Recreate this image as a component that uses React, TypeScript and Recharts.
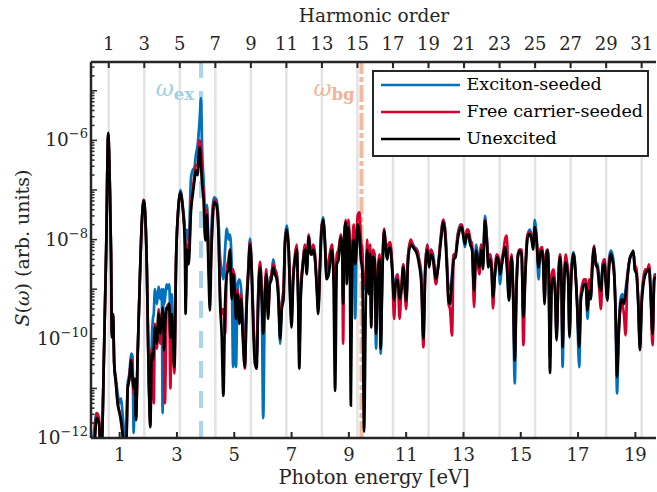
import { LineChart, Line, XAxis, YAxis, ReferenceLine } from 'recharts';

const FONT = 'DejaVu Serif';
const INK = '#262626';

const BLUE = '#0072bd';
const RED = '#d7002c';
const BLACK = '#000000';

// photon energy grid (eV)
const energy = [
  0, 0.1, 0.2, 0.28, 0.35, 0.46, 0.53, 0.6, 0.66, 0.7,
  0.73, 0.77, 0.81, 0.87, 0.93, 1.0, 1.05, 1.1, 1.16, 1.22,
  1.28, 1.34, 1.4, 1.45, 1.49, 1.53, 1.57, 1.63, 1.7, 1.77,
  1.84, 1.9, 1.95, 2.0, 2.07, 2.12, 2.16, 2.19, 2.23, 2.3,
  2.36, 2.42, 2.47, 2.5, 2.53, 2.55, 2.58, 2.64, 2.7, 2.73,
  2.77, 2.82, 2.86, 2.91, 2.97, 3.05, 3.12, 3.2, 3.28, 3.3,
  3.35, 3.41, 3.49, 3.55, 3.61, 3.66, 3.72, 3.79, 3.84, 3.88,
  3.93, 3.99, 4.05, 4.1, 4.15, 4.2, 4.3, 4.38, 4.45, 4.5,
  4.56, 4.62, 4.68, 4.74, 4.8, 4.85, 4.91, 4.96, 5.02, 5.06,
  5.12, 5.18, 5.24, 5.3, 5.37, 5.43, 5.49, 5.55, 5.61, 5.66,
  5.72, 5.78, 5.84, 5.9, 5.96, 6.01, 6.07, 6.12, 6.18, 6.24,
  6.3, 6.36, 6.42, 6.48, 6.54, 6.6, 6.66, 6.72, 6.77, 6.83,
  6.9, 6.95, 7.0, 7.06, 7.12, 7.18, 7.23, 7.27, 7.32, 7.39,
  7.47, 7.53, 7.6, 7.66, 7.71, 7.76, 7.82, 7.88, 7.93, 7.99,
  8.04, 8.1, 8.16, 8.22, 8.3, 8.36, 8.41, 8.46, 8.52, 8.58,
  8.64, 8.72, 8.77, 8.8, 8.84, 8.89, 8.93, 8.98, 9.03, 9.07,
  9.12, 9.17, 9.22, 9.27, 9.31, 9.37, 9.42, 9.47, 9.53, 9.6,
  9.64, 9.69, 9.74, 9.78, 9.84, 9.9, 9.95, 10.01, 10.07, 10.11,
  10.17, 10.23, 10.29, 10.34, 10.38, 10.44, 10.51, 10.58, 10.63, 10.7,
  10.77, 10.84, 10.9, 11.0, 11.07, 11.16, 11.23, 11.3, 11.38, 11.45,
  11.53, 11.6, 11.67, 11.74, 11.8, 11.87, 11.94, 12.04, 12.12, 12.2,
  12.3, 12.36, 12.42, 12.48, 12.53, 12.6, 12.66, 12.72, 12.8, 12.88,
  12.94, 13.0, 13.05, 13.12, 13.17, 13.24, 13.3, 13.37, 13.44, 13.5,
  13.56, 13.62, 13.68, 13.75, 13.82, 13.87, 13.93, 13.98, 14.03, 14.1,
  14.16, 14.22, 14.28, 14.34, 14.4, 14.45, 14.51, 14.59, 14.64, 14.68,
  14.73, 14.79, 14.85, 14.9, 14.96, 15.03, 15.09, 15.16, 15.24, 15.32,
  15.38, 15.43, 15.49, 15.55, 15.62, 15.68, 15.74, 15.79, 15.83, 15.88,
  15.93, 15.97, 16.02, 16.08, 16.14, 16.2, 16.25, 16.31, 16.37, 16.42,
  16.46, 16.52, 16.57, 16.62, 16.66, 16.7, 16.76, 16.84, 16.9, 16.96,
  17.04, 17.1, 17.15, 17.21, 17.27, 17.33, 17.39, 17.44, 17.5, 17.56,
  17.62, 17.68, 17.74, 17.8, 17.86, 17.92, 17.97, 18.02, 18.08, 18.14,
  18.2, 18.26, 18.31, 18.36, 18.42, 18.48, 18.54, 18.6, 18.66, 18.72,
  18.8, 18.86, 18.93, 18.98, 19.04, 19.1, 19.16, 19.22, 19.28, 19.35,
  19.42, 19.48, 19.53, 19.6, 19.66, 19.72,
];

// log10 S(w), exciton-seeded
const excitonSeeded = [
  -12.6, -11.9, -11.5, -11.7, -12.5, -10.1, -8.2, -5.9, -7.0, -8.3,
  -9.9, -9.5, -10.5, -10.8, -11.1, -11.3, -11.2, -11.5, -11.9, -12.3,
  -10.9, -10.7, -10.3, -10.35, -11.9, -10.9, -11.5, -10.3, -8.9, -7.7,
  -7.2, -7.6, -8.6, -10.3, -11.5, -10.1, -9.6, -9.5, -9.0, -9.3,
  -8.95, -9.2, -9.0, -11.5, -9.0, -9.3, -9.2, -8.9, -9.0, -8.9,
  -9.5, -9.1, -9.7, -10.3, -8.4, -7.35, -7.0, -7.3, -7.9, -8.6,
  -7.8, -8.0, -6.75, -6.6, -6.55, -6.3, -6.1, -5.6, -5.15, -6.2,
  -6.8, -7.6, -7.3, -8.2, -8.7, -7.8, -7.15, -7.2, -7.6, -8.3,
  -8.6, -8.8, -8.2, -7.78, -8.0, -7.9, -8.5, -10.57, -8.7, -10.57,
  -8.9, -8.8, -9.0, -9.7, -10.0, -9.2, -8.6, -7.98, -8.6, -9.5,
  -10.2, -10.3, -9.1, -8.5, -9.2, -11.6, -9.1, -8.7, -9.4, -8.8,
  -8.7, -8.4, -8.6, -8.7, -9.0, -10.1, -9.3, -9.0, -8.0, -7.72,
  -8.2, -9.1, -9.6, -8.7, -8.4, -8.2, -9.1, -10.3, -9.1, -8.5,
  -8.15, -8.6, -7.92, -8.2, -8.3, -8.2, -8.4, -8.9, -9.4, -8.6,
  -7.8, -7.55, -8.0, -8.7, -8.6, -8.3, -8.2, -8.6, -9.2, -8.4,
  -8.3, -7.9, -8.2, -9.3, -7.9, -7.65, -8.6, -7.7, -8.1, -8.6,
  -8.2, -7.9, -9.59, -8.1, -7.7, -8.0, -8.3, -8.5, -9.0, -8.8,
  -8.2, -9.0, -8.2, -9.6, -8.3, -8.35, -10.2, -8.7, -8.4, -10.3,
  -8.7, -7.8, -8.2, -8.4, -8.2, -8.1, -8.5, -9.1, -8.8, -8.7,
  -9.1, -8.9, -8.5, -9.3, -8.3, -8.05, -8.1, -8.15, -8.2, -8.4,
  -8.7, -9.8, -8.5, -8.1, -8.4, -8.2, -8.3, -8.7, -8.5, -8.0,
  -7.6, -7.8, -8.4, -9.0, -9.0, -8.7, -8.3, -8.3, -7.9, -7.7,
  -7.7, -7.95, -8.15, -7.9, -7.9, -8.1, -8.2, -9.0, -8.1, -8.3,
  -8.4, -8.1, -8.5, -7.52, -8.0, -8.4, -8.3, -8.5, -9.1, -8.7,
  -8.4, -8.45, -8.9, -8.5, -8.3, -8.15, -8.4, -9.2, -8.6, -8.35,
  -9.1, -10.9, -9.0, -8.3, -8.2, -8.3, -9.5, -8.6, -7.9, -7.8,
  -7.95, -8.1, -7.6, -7.9, -8.8, -8.3, -8.2, -8.5, -9.2, -8.3,
  -8.2, -8.5, -10.4, -8.8, -8.7, -9.0, -9.9, -8.8, -8.3, -8.8,
  -10.57, -8.7, -8.4, -8.5, -8.8, -9.8, -8.7, -8.25, -8.5, -9.2,
  -10.57, -9.1, -9.0, -8.8, -8.9, -9.6, -9.0, -9.2, -8.5, -8.2,
  -8.45, -8.5, -8.8, -8.9, -8.5, -8.4, -8.8, -9.1, -8.4, -8.22,
  -8.3, -8.6, -9.5, -11.1, -9.8, -9.2, -9.1, -9.2, -9.0, -8.7,
  -8.4, -8.3, -8.26, -8.6, -8.7, -9.3, -10.2, -9.2, -8.8, -8.6,
  -8.6, -8.55, -9.0, -9.9, -8.7, -8.7,
];

// log10 S(w), free carrier-seeded
const freeCarrierSeeded = [
  -12.6, -12.3, -11.5, -11.6, -12.5, -10.1, -8.2, -5.9, -7.0, -8.3,
  -9.9, -9.5, -10.5, -10.9, -11.3, -11.5, -11.7, -11.9, -12.2, -12.4,
  -11.0, -10.8, -10.4, -10.7, -11.1, -10.9, -11.6, -10.3, -8.9, -7.7,
  -7.2, -7.6, -8.6, -10.3, -11.7, -10.2, -10.4, -11.3, -9.7, -10.2,
  -9.4, -10.1, -9.5, -9.5, -9.5, -10.3, -11.3, -9.4, -9.3, -9.3,
  -11.0, -9.5, -10.0, -10.7, -8.4, -7.35, -7.05, -7.35, -8.0, -9.3,
  -8.1, -8.3, -7.3, -7.0, -6.7, -6.5, -6.5, -6.0, -6.1, -6.8,
  -7.0, -7.9, -7.4, -8.4, -9.0, -8.2, -7.2, -7.3, -7.8, -9.0,
  -9.5, -9.4, -9.9, -8.6, -8.4, -8.2, -9.0, -8.6, -9.0, -9.4,
  -9.0, -9.4, -9.1, -9.8, -10.6, -9.3, -8.6, -8.05, -8.6, -9.5,
  -10.3, -10.4, -9.0, -8.45, -9.0, -9.6, -9.0, -8.6, -9.5, -8.9,
  -8.7, -8.5, -8.6, -8.7, -9.1, -9.8, -9.3, -9.0, -8.1, -7.8,
  -8.2, -9.0, -9.3, -8.7, -8.3, -8.1, -9.1, -10.1, -9.0, -8.5,
  -8.1, -8.5, -7.9, -8.2, -8.2, -8.1, -8.3, -8.9, -9.4, -8.5,
  -7.8, -7.6, -8.0, -8.6, -8.4, -8.2, -8.1, -8.5, -9.0, -8.3,
  -8.2, -7.9, -8.2, -10.1, -7.9, -7.6, -8.4, -7.6, -8.0, -8.5,
  -8.1, -7.7, -8.3, -7.9, -7.5, -7.45, -8.0, -8.2, -8.9, -8.7,
  -8.0, -8.9, -8.1, -9.4, -8.2, -8.3, -9.8, -8.6, -8.3, -10.0,
  -8.6, -7.78, -8.1, -8.3, -8.1, -8.05, -8.5, -9.6, -8.9, -8.7,
  -9.6, -8.9, -8.5, -9.4, -8.3, -8.0, -8.1, -8.2, -8.2, -8.4,
  -8.8, -10.17, -8.5, -8.1, -8.5, -8.2, -8.4, -8.9, -8.5, -8.0,
  -7.6, -7.8, -8.4, -9.3, -9.4, -9.93, -8.3, -8.3, -7.9, -7.75,
  -7.7, -7.9, -8.0, -7.8, -7.8, -8.0, -8.1, -9.36, -8.2, -8.5,
  -8.7, -8.1, -8.5, -7.6, -8.0, -8.5, -8.3, -8.5, -9.39, -8.6,
  -8.3, -8.35, -8.6, -8.4, -8.2, -8.0, -7.92, -9.1, -8.5, -8.3,
  -8.9, -10.3, -8.9, -8.3, -8.2, -8.2, -10.13, -8.6, -7.9, -7.85,
  -8.0, -8.1, -7.75, -8.0, -8.5, -8.2, -8.15, -8.5, -9.2, -8.3,
  -8.2, -8.5, -10.2, -8.7, -8.6, -9.0, -9.9, -8.8, -8.3, -8.8,
  -10.0, -8.7, -8.3, -8.5, -8.7, -9.9, -8.7, -8.3, -8.6, -9.2,
  -10.0, -9.1, -8.9, -8.8, -8.8, -9.4, -8.8, -9.1, -8.4, -8.12,
  -8.5, -8.6, -9.0, -9.4, -8.5, -8.4, -8.8, -9.2, -8.5, -8.3,
  -8.4, -8.7, -9.4, -10.6, -9.8, -9.4, -9.3, -9.5, -9.93, -8.8,
  -8.4, -8.3, -8.25, -8.5, -8.6, -9.2, -10.1, -9.2, -8.8, -8.6,
  -8.6, -8.5, -9.1, -10.13, -8.8, -8.7,
];

// log10 S(w), unexcited
const unexcited = [
  -12.6, -12.3, -11.6, -11.7, -12.5, -10.16, -8.2, -5.85, -7.0, -8.3,
  -9.97, -9.5, -10.5, -10.9, -11.3, -11.5, -11.64, -11.9, -12.2, -12.4,
  -11.0, -10.8, -10.43, -10.8, -11.0, -10.8, -11.64, -10.29, -8.9, -7.7,
  -7.22, -7.6, -8.6, -10.3, -11.78, -10.3, -10.43, -10.2, -9.77, -10.1,
  -9.49, -9.9, -9.6, -9.37, -9.6, -10.23, -9.8, -9.37, -9.4, -9.29,
  -9.97, -9.5, -10.0, -10.57, -8.42, -7.35, -7.05, -7.35, -8.15, -9.5,
  -8.2, -8.5, -7.42, -7.1, -6.81, -6.6, -6.7, -6.14, -6.5, -6.9,
  -7.2, -8.02, -7.5, -8.6, -9.43, -8.3, -7.25, -7.3, -7.89, -9.2,
  -9.9, -11.15, -9.3, -8.7, -8.6, -8.2, -9.2, -8.7, -9.1, -9.6,
  -9.1, -9.7, -9.2, -10.0, -10.57, -9.4, -8.7, -8.1, -8.7, -9.7,
  -10.5, -10.6, -9.2, -8.56, -9.2, -9.9, -9.2, -8.7, -9.6, -8.9,
  -8.8, -8.56, -8.7, -8.8, -9.2, -10.0, -9.4, -9.2, -8.1, -7.8,
  -8.2, -9.2, -9.77, -8.8, -8.4, -8.2, -9.2, -10.6, -9.2, -8.56,
  -8.2, -8.7, -7.95, -8.3, -8.3, -8.2, -8.4, -9.0, -9.5, -8.6,
  -7.9, -7.6, -8.0, -8.8, -8.7, -8.36, -8.2, -8.7, -11.05, -8.5,
  -8.4, -7.96, -8.3, -9.3, -8.0, -7.66, -8.9, -7.75, -8.2, -11.35,
  -8.3, -8.0, -8.5, -8.2, -7.69, -7.9, -8.4, -8.6, -11.87, -8.9,
  -8.2, -9.1, -8.29, -9.77, -8.35, -8.4, -9.9, -8.8, -8.4, -10.2,
  -8.7, -7.82, -8.2, -8.4, -8.2, -8.16, -8.6, -9.23, -8.9, -8.8,
  -9.2, -9.0, -8.56, -9.23, -8.4, -8.1, -8.15, -8.2, -8.3, -8.5,
  -8.9, -10.0, -8.6, -8.2, -8.56, -8.3, -8.4, -8.8, -8.56, -8.1,
  -7.65, -7.9, -8.56, -9.23, -9.3, -8.8, -8.4, -8.36, -8.0, -7.79,
  -7.75, -7.95, -8.09, -7.9, -7.89, -8.1, -8.2, -9.03, -8.22, -8.4,
  -8.56, -8.2, -8.6, -7.62, -8.1, -8.56, -8.4, -8.6, -9.16, -8.7,
  -8.36, -8.4, -8.7, -8.5, -8.29, -8.15, -8.5, -9.23, -8.6, -8.36,
  -9.0, -10.44, -9.0, -8.36, -8.22, -8.3, -9.57, -8.7, -7.96, -7.89,
  -8.0, -8.2, -7.75, -8.0, -8.56, -8.3, -8.22, -8.6, -9.3, -8.4,
  -8.22, -8.56, -10.69, -8.9, -8.76, -9.1, -10.03, -8.9, -8.36, -8.9,
  -10.17, -8.8, -8.46, -8.6, -8.9, -9.97, -8.8, -8.29, -8.6, -9.2,
  -10.17, -9.2, -9.03, -8.9, -8.9, -9.43, -9.03, -9.2, -8.56, -8.16,
  -8.5, -8.56, -8.9, -9.03, -8.56, -8.49, -8.9, -9.23, -8.6, -8.29,
  -8.4, -8.7, -9.5, -10.77, -9.9, -9.3, -9.2, -9.3, -9.1, -8.8,
  -8.4, -8.3, -8.22, -8.6, -8.7, -9.3, -10.23, -9.3, -8.9, -8.7,
  -8.63, -8.6, -9.0, -9.9, -8.8, -8.76,
];

const harmonicOrders = [1, 3, 5, 7, 9, 11, 13, 15, 17, 19, 21, 23, 25, 27, 29, 31];
const energyTicks = [1, 3, 5, 7, 9, 11, 13, 15, 17, 19];
const decades = [-12, -11, -10, -9, -8, -7, -6, -5];
const fundamentalEv = 0.62;
const excitonEv = 3.84;
const bandGapEv = 9.44;

const X_MAX = 19.72;
const Y_MIN = -12;
const Y_MAX = -4.42;

const data = energy.map((e, i) => ({
  energy: e,
  exciton: excitonSeeded[i],
  free: freeCarrierSeeded[i],
  unexcited: unexcited[i],
}));

const harmonicEnergies = harmonicOrders.map((h) => h * fundamentalEv);

// decade + minor ticks for the log axis
const yTicks = decades
  .flatMap((d) => [1, 2, 3, 4, 5, 6, 7, 8, 9].map((k) => d + Math.log10(k)))
  .filter((v) => v <= Y_MAX);

const isDecade = (v: number) => Math.abs(v - Math.round(v)) < 1e-6;

function EnergyTick({ x, y, payload }: any) {
  return (
    <g>
      <line x1={x} x2={x} y1={y} y2={y - 6} stroke={INK} strokeWidth={2} />
      <text x={x} y={y + 23} textAnchor="middle" fontFamily={FONT} fontSize={18} fill={INK}>
        {payload.value}
      </text>
    </g>
  );
}

function HarmonicTick({ x, y, payload }: any) {
  return (
    <g>
      <line x1={x} x2={x} y1={y} y2={y + 6} stroke={INK} strokeWidth={2} />
      <text x={x} y={y - 12} textAnchor="middle" fontFamily={FONT} fontSize={18} fill={INK}>
        {Math.round(payload.value / fundamentalEv)}
      </text>
    </g>
  );
}

function LeftTick({ x, y, payload }: any) {
  const v = payload.value;
  const n = Math.round(v);
  const major = isDecade(v);
  return (
    <g>
      <line x1={x} x2={x + (major ? 6 : 3.5)} y1={y} y2={y} stroke={INK} strokeWidth={1.5} />
      {major && n % 2 === 0 && (
        <text x={x - 3} y={y + 6} textAnchor="end" fontFamily={FONT} fontSize={18.5} fill={INK}>
          10
          <tspan dy={-8} fontSize={13}>
            {'\u2212' + Math.abs(n)}
          </tspan>
        </text>
      )}
    </g>
  );
}

function RightTick({ x, y, payload }: any) {
  const major = isDecade(payload.value);
  return <line x1={x} x2={x - (major ? 6 : 3.5)} y1={y} y2={y} stroke={INK} strokeWidth={1.5} />;
}

function OmegaLabel({ viewBox, sub, color }: any) {
  return (
    <text x={viewBox.x - 7} y={viewBox.y + 34} textAnchor="end" fill={color} fontFamily={FONT}>
      <tspan fontStyle="italic" fontSize={22}>
        ω
      </tspan>
      <tspan fontWeight="bold" fontSize={16.5} dy={4}>
        {sub}
      </tspan>
    </text>
  );
}

const BottomTitle = () => (
  <text x={374} y={484} textAnchor="middle" fontFamily={FONT} fontSize={19.5} fill={INK}>
    Photon energy [eV]
  </text>
);

const TopTitle = () => (
  <text x={374} y={22} textAnchor="middle" fontFamily={FONT} fontSize={18.5} fill={INK}>
    Harmonic order
  </text>
);

const LeftTitle = () => (
  <text transform="translate(29, 248) rotate(-90)" textAnchor="middle" fontFamily={FONT} fontSize={19} fill={INK}>
    <tspan fontStyle="italic">S</tspan>(<tspan fontStyle="italic">ω</tspan>) (arb. units)
  </text>
);

const legendItems = [
  { label: 'Exciton-seeded', color: BLUE },
  { label: 'Free carrier-seeded', color: RED },
  { label: 'Unexcited', color: BLACK },
];

const axisLine = { stroke: INK, strokeWidth: 2.5 };

export default function App() {
  return (
    <div style={{ position: 'absolute', left: 0, top: 0, width: 657, height: 492, background: '#fff' }}>
      <LineChart width={657} height={492} data={data} margin={{ top: 0, right: 1, bottom: 0, left: 0 }}>
        <XAxis
          xAxisId="e"
          dataKey="energy"
          type="number"
          domain={[0, X_MAX]}
          allowDataOverflow
          ticks={energyTicks}
          interval={0}
          height={54}
          tickSize={0}
          tickMargin={0}
          tickLine={false}
          axisLine={axisLine}
          tick={(p: any) => <EnergyTick {...p} />}
          label={<BottomTitle />}
        />
        <XAxis
          xAxisId="h"
          dataKey="energy"
          type="number"
          orientation="top"
          domain={[0, X_MAX]}
          allowDataOverflow
          ticks={harmonicEnergies}
          interval={0}
          height={62}
          tickSize={0}
          tickMargin={0}
          tickLine={false}
          axisLine={axisLine}
          tick={(p: any) => <HarmonicTick {...p} />}
          label={<TopTitle />}
        />
        <YAxis
          yAxisId="s"
          type="number"
          domain={[Y_MIN, Y_MAX]}
          allowDataOverflow
          ticks={yTicks}
          interval={0}
          width={91}
          tickSize={0}
          tickMargin={0}
          tickLine={false}
          axisLine={axisLine}
          tick={(p: any) => <LeftTick {...p} />}
          label={<LeftTitle />}
        />
        <YAxis
          yAxisId="r"
          orientation="right"
          type="number"
          domain={[Y_MIN, Y_MAX]}
          allowDataOverflow
          ticks={yTicks}
          interval={0}
          width={0}
          tickSize={0}
          tickMargin={0}
          tickLine={false}
          axisLine={axisLine}
          tick={(p: any) => <RightTick {...p} />}
        />

        {harmonicEnergies.map((e) => (
          <ReferenceLine key={e} xAxisId="e" yAxisId="s" x={e} stroke="#e3e3e3" strokeWidth={2.5} />
        ))}
        <ReferenceLine
          xAxisId="e"
          yAxisId="s"
          x={excitonEv}
          stroke="#a9d5ea"
          strokeWidth={4}
          strokeDasharray="17 13"
          label={<OmegaLabel sub="ex" color="#9fcfe6" />}
        />
        <ReferenceLine
          xAxisId="e"
          yAxisId="s"
          x={bandGapEv}
          stroke="#f5b99c"
          strokeWidth={4}
          strokeDasharray="17 3 5 3"
          label={<OmegaLabel sub="bg" color="#f3b396" />}
        />

        <Line xAxisId="e" yAxisId="s" type="monotone" dataKey="exciton" stroke={BLUE} strokeWidth={2.7} dot={false} isAnimationActive={false} />
        <Line xAxisId="e" yAxisId="s" type="monotone" dataKey="free" stroke={RED} strokeWidth={2.7} dot={false} isAnimationActive={false} />
        <Line xAxisId="e" yAxisId="s" type="monotone" dataKey="unexcited" stroke={BLACK} strokeWidth={2.7} dot={false} isAnimationActive={false} />
      </LineChart>

      <div
        style={{
          position: 'absolute',
          left: 372,
          top: 70,
          width: 277,
          height: 87,
          boxSizing: 'border-box',
          border: `2.5px solid ${INK}`,
          background: '#fff',
          fontFamily: FONT,
          fontSize: 17.5,
          color: '#000',
        }}
      >
        {legendItems.map((item, i) => (
          <div
            key={item.label}
            style={{ position: 'absolute', left: 0, top: -1 + i * 27, height: 27, width: '100%', display: 'flex', alignItems: 'center' }}
          >
            <svg width={79} height={6} style={{ marginLeft: 6.5 }}>
              <line x1={0} x2={79} y1={3} y2={3} stroke={item.color} strokeWidth={2.6} />
            </svg>
            <span style={{ marginLeft: 7, whiteSpace: 'nowrap', lineHeight: '27px' }}>{item.label}</span>
          </div>
        ))}
      </div>
    </div>
  );
}
